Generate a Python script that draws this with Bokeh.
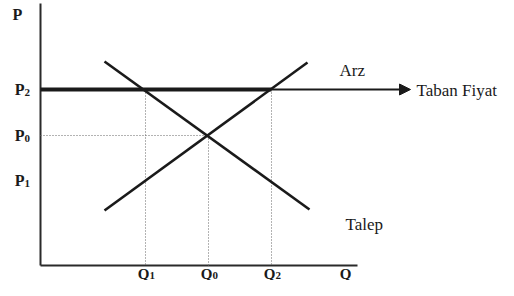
from bokeh.plotting import figure
from bokeh.models import Range1d, Arrow, NormalHead
from bokeh.core.properties import value
from bokeh.embed import file_html
from bokeh.resources import INLINE

# Market values (chart units)
quantities = [105, 168, 231]          # Q1, Q0, Q2
quantity_subs = ["1", "0", "2"]
prices = [176, 130, 85]               # P2, P0, P1
price_subs = ["2", "0", "1"]
floor_price = 176                     # Taban Fiyat (P2)
eq_q, eq_p = 168, 130                 # equilibrium (Q0, P0)

supply_q = [64, 267]
supply_p = [55, 203]
demand_q = [64, 269]
demand_p = [204, 56]

axis_max_q = 317
axis_max_p = 262
arrow_end_q = 370

p = figure(width=498, height=280, output_backend="svg", toolbar_location=None,
           x_range=Range1d(-40, 458), y_range=Range1d(-15, 265),
           min_border=0)
p.axis.visible = False
p.grid.visible = False
p.outline_line_color = None
p.background_fill_color = "white"

ink = "#1a1a1a"
serif = value("Liberation Serif")

# axes
p.segment(x0=[0, 0], y0=[0, 0], x1=[0, axis_max_q], y1=[axis_max_p, 0],
          line_color="#2a2a2a", line_width=2)

# dotted guides
p.segment(x0=[0], y0=[eq_p], x1=[eq_q], y1=[eq_p],
          line_color="#666666", line_width=1, line_dash="1 2")
p.segment(x0=quantities, y0=[floor_price, eq_p, floor_price],
          x1=quantities, y1=[0, 0, 0],
          line_color="#666666", line_width=1, line_dash="1 2")

# supply and demand
p.line(supply_q, supply_p, line_color=ink, line_width=2.6)
p.line(demand_q, demand_p, line_color=ink, line_width=2.6)

# price floor
p.segment(x0=[0], y0=[floor_price], x1=[quantities[2]], y1=[floor_price],
          line_color=ink, line_width=4)
p.add_layout(Arrow(end=NormalHead(size=11, fill_color=ink, line_color=ink),
                   x_start=quantities[2], y_start=floor_price,
                   x_end=arrow_end_q, y_end=floor_price,
                   line_color=ink, line_width=2))

# price labels: letter + subscript digit
p.text(x=[-16] * 3, y=prices, text=["P"] * 3, text_font=serif,
       text_font_style="bold", text_font_size="16px", text_color=ink,
       text_align="right", text_baseline="middle")
p.text(x=[-16] * 3, y=prices, text=price_subs, text_font=serif,
       text_font_style="bold", text_font_size="11px", text_color=ink,
       text_align="left", text_baseline="middle", y_offset=3)
p.text(x=[-23], y=[251], text=["P"], text_font=serif,
       text_font_style="bold", text_font_size="16px", text_color=ink,
       text_align="center", text_baseline="middle")

# quantity labels: letter + subscript digit
p.text(x=quantities, y=[-8] * 3, text=["Q"] * 3, text_font=serif,
       text_font_style="bold", text_font_size="15px", text_color=ink,
       text_align="right", text_baseline="middle", x_offset=4)
p.text(x=quantities, y=[-8] * 3, text=quantity_subs, text_font=serif,
       text_font_style="bold", text_font_size="11px", text_color=ink,
       text_align="left", text_baseline="middle", x_offset=4, y_offset=2)
p.text(x=[305], y=[-8], text=["Q"], text_font=serif,
       text_font_style="bold", text_font_size="15px", text_color=ink,
       text_align="center", text_baseline="middle")

# curve labels
p.text(x=[299, 305], y=[195, 41], text=["Arz", "Talep"], text_font=serif,
       text_font_size="17px", text_color=ink,
       text_align="left", text_baseline="middle")
p.text(x=[376], y=[175], text=["Taban Fiyat"], text_font=serif,
       text_font_size="17px", text_color=ink,
       text_align="left", text_baseline="middle")

open("out.html", "w").write(file_html(p, INLINE))
